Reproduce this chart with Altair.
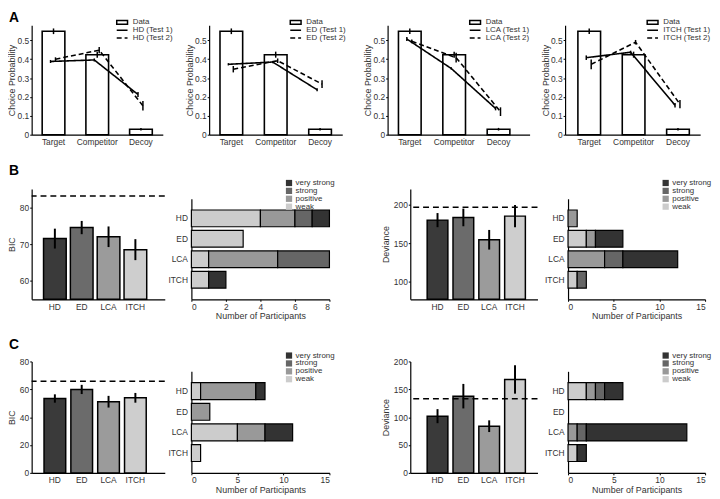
import altair as alt
import pandas as pd

FONT = "Liberation Sans"

# ---------------- data ----------------
choice_options = ["Target", "Competitor", "Decoy"]
data_prob = [0.548, 0.424, 0.029]
data_err = [0.015, 0.016, 0.007]

model_names = ["HD", "ED", "LCA", "ITCH"]
model_colors = ["#3a3a3a", "#6b6b6b", "#9b9b9b", "#cecece"]

test1_prob = {
    "HD": [0.388, 0.396, 0.213],
    "ED": [0.373, 0.385, 0.238],
    "LCA": [0.507, 0.351, 0.139],
    "ITCH": [0.408, 0.437, 0.156],
}
test1_err = {
    "HD": [0.008, 0.008, 0.013],
    "ED": [0.006, 0.006, 0.008],
    "LCA": [0.010, 0.006, 0.010],
    "ITCH": [0.012, 0.008, 0.012],
}
test2_prob = {
    "HD": [0.400, 0.448, 0.153],
    "ED": [0.347, 0.392, 0.268],
    "LCA": [0.495, 0.408, 0.122],
    "ITCH": [0.373, 0.490, 0.162],
}
test2_err = {
    "HD": [0.010, 0.017, 0.025],
    "ED": [0.017, 0.012, 0.020],
    "LCA": [0.010, 0.026, 0.023],
    "ITCH": [0.026, 0.012, 0.022],
}

bic_B = [71.5, 74.5, 72.0, 68.5]
bic_B_err = [2.7, 1.8, 2.8, 2.85]
bic_B_ref = 83.1
dev_B = [180.3, 183.8, 154.7, 185.5]
dev_B_err = [9.2, 11.5, 12.8, 14.5]
dev_B_ref = 197.0
bic_C = [53.4, 59.9, 51.1, 53.9]
bic_C_err = [3.0, 3.3, 4.2, 3.5]
bic_C_ref = 65.8
dev_C = [101.8, 137.7, 83.8, 167.7]
dev_C_err = [12.6, 22.0, 10.5, 25.5]
dev_C_ref = 133.0

strength_levels = ["weak", "positive", "strong", "very strong"]
legend_order = ["very strong", "strong", "positive", "weak"]
strength_colors = ["#333333", "#666666", "#999999", "#cccccc"]

# counts per model in order weak, positive, strong, very strong
counts_B_bic = {"HD": [4, 2, 1, 1], "ED": [3, 0, 0, 0], "LCA": [1, 4, 3, 0], "ITCH": [1, 0, 0, 1]}
counts_B_dev = {"HD": [0, 1, 0, 0], "ED": [2, 1, 0, 3], "LCA": [0, 4, 2, 6], "ITCH": [1, 0, 1, 0]}
counts_C_bic = {"HD": [1, 6, 0, 1], "ED": [0, 2, 0, 0], "LCA": [5, 3, 0, 3], "ITCH": [1, 0, 0, 0]}
counts_C_dev = {"HD": [2, 1, 1, 2], "ED": [0, 0, 0, 0], "LCA": [0, 1, 1, 11], "ITCH": [1, 0, 0, 1]}

INDEP = dict(color="independent", stroke="independent", strokeDash="independent")


# ---------------- helpers ----------------
def letter_layer(letter, y):
    return alt.Chart(pd.DataFrame({"t": [letter]})).mark_text(
        fontSize=14, fontWeight="bold", align="left", baseline="middle",
        x=-23, y=y, color="black", font=FONT
    ).encode(text="t:N")


def spacer(w, h=1):
    return alt.Chart(pd.DataFrame({"t": [""]})).mark_text().encode(
        text="t:N").properties(width=w, height=h)


def choice_panel(m, width, pad_outer, align, legend_x, height=111, letter=None):
    idx = [0, 1, 2]
    df_data = pd.DataFrame({
        "option": choice_options, "idx": idx, "p": data_prob,
        "lo": [p - e for p, e in zip(data_prob, data_err)],
        "hi": [p + e for p, e in zip(data_prob, data_err)],
        "kind": ["Data"] * 3,
    })
    s1, s2 = f"{m} (Test 1)", f"{m} (Test 2)"

    def model_df(probs, errs, s):
        return pd.DataFrame({
            "option": choice_options, "idx": idx, "p": probs,
            "lo": [p - e for p, e in zip(probs, errs)],
            "hi": [p + e for p, e in zip(probs, errs)],
            "series": [s] * 3,
        })

    df1 = model_df(test1_prob[m], test1_err[m], s1)
    df2 = model_df(test2_prob[m], test2_err[m], s2)

    xenc = alt.X("option:N", sort=choice_options,
                 scale=alt.Scale(domain=choice_options, paddingInner=0,
                                 paddingOuter=pad_outer, align=align),
                 axis=alt.Axis(title=None, ticks=False, labelAngle=0, labelPadding=3))
    yscale = alt.Scale(domain=[0, 0.58], nice=False, zero=False)
    yaxis = alt.Axis(values=[0, 0.1, 0.2, 0.3, 0.4, 0.5], format=".1~f", labelOverlap=False,
                     titleX=-15, titleY=height / 2, tickSize=2, labelPadding=1)
    ttl = "Choice Probability"

    def yenc(field):
        return alt.Y(field, scale=yscale, axis=yaxis, title=ttl)

    bars = alt.Chart(df_data).mark_bar(size=23, fill="white", strokeWidth=1.6).encode(
        x=xenc,
        y=yenc("p:Q"),
        stroke=alt.Stroke("kind:N", scale=alt.Scale(domain=["Data"], range=["black"]),
                          legend=alt.Legend(orient="none", legendX=legend_x, legendY=-7,
                                            title=None, symbolType="M-2,-0.7H2V0.7H-2Z",
                                            symbolSize=30, symbolStrokeWidth=1.5,
                                            symbolFillColor="white", symbolStrokeColor="black",
                                            labelOffset=6.75, labelFontSize=8)),
    )
    data_err_rule = alt.Chart(df_data).mark_rule(color="black", strokeWidth=1.5).encode(
        x=xenc, y=yenc("lo:Q"), y2="hi:Q")

    dash_legend = alt.Legend(orient="none", legendX=legend_x, legendY=1, title=None,
                             symbolType="M-2,0H2", symbolSize=30, symbolStrokeWidth=1.5,
                             symbolStrokeColor="black", labelOffset=6.75, rowPadding=-3.5,
                             labelFontSize=8)
    dash = alt.StrokeDash("series:N", scale=alt.Scale(domain=[s1, s2], range=[[1, 0], [5, 3]]),
                          legend=dash_legend)

    layers = [bars, data_err_rule]
    for df, off in ((df1, -3), (df2, 2)):
        layers.append(alt.Chart(df).mark_line(color="black", strokeWidth=1.6, xOffset=off).encode(
            x=xenc, y=yenc("p:Q"), strokeDash=dash, order=alt.Order("idx:Q")))
        layers.append(alt.Chart(df).mark_rule(color="black", strokeWidth=1.5, xOffset=off).encode(
            x=xenc, y=yenc("lo:Q"), y2="hi:Q"))
    if letter:
        layers.append(letter_layer(letter, -7))
    return alt.layer(*layers).properties(width=width, height=height)


def score_panel(vals, errs, ref, domain, ticks, title, width, height, pad_outer, align,
                bar_size, title_x, letter=None, letter_y=0):
    df = pd.DataFrame({
        "model": model_names, "v": vals,
        "lo": [v - e for v, e in zip(vals, errs)],
        "hi": [v + e for v, e in zip(vals, errs)],
    })
    xenc = alt.X("model:N", sort=model_names,
                 scale=alt.Scale(domain=model_names, paddingInner=0,
                                 paddingOuter=pad_outer, align=align),
                 axis=alt.Axis(title=None, ticks=False, labelAngle=0, labelPadding=3))
    yscale = alt.Scale(domain=domain, nice=False, zero=False)
    yaxis = alt.Axis(values=ticks, titleX=title_x, titleY=height / 2, tickSize=2,
                     labelPadding=1, labelOverlap=False)

    def yenc(field):
        return alt.Y(field, scale=yscale, axis=yaxis, title=title)

    bars = alt.Chart(df).mark_bar(size=bar_size, stroke="black", strokeWidth=1.5).encode(
        x=xenc,
        y=yenc("v:Q"),
        y2=alt.datum(domain[0]),
        color=alt.Color("model:N", scale=alt.Scale(domain=model_names, range=model_colors),
                        legend=None),
    )
    err = alt.Chart(df).mark_rule(color="black", strokeWidth=2).encode(
        x=xenc, y=yenc("lo:Q"), y2="hi:Q")
    refline = alt.Chart(pd.DataFrame({"ref": [ref]})).mark_rule(
        color="black", strokeWidth=1.5, strokeDash=[6, 4]).encode(y=yenc("ref:Q"))
    layers = [bars, err, refline]
    if letter:
        layers.append(letter_layer(letter, letter_y))
    return alt.layer(*layers).properties(width=width, height=height)


def evidence_panel(counts, xmax, xticks, width, height):
    rows = []
    for m in model_names:
        for k, s in enumerate(strength_levels):
            n = counts[m][k]
            if n > 0:
                rows.append({"model": m, "strength": s, "rank": k, "n": n})
    df = pd.DataFrame(rows)
    return alt.Chart(df).mark_bar(stroke="black", strokeWidth=1.2).encode(
        x=alt.X("n:Q", stack="zero", scale=alt.Scale(domain=[0, xmax], nice=False),
                axis=alt.Axis(values=xticks, title="Number of Participants", tickSize=2,
                              labelPadding=1, titlePadding=1)),
        y=alt.Y("model:N", sort=model_names,
                scale=alt.Scale(domain=model_names, range=[10, height],
                                paddingInner=0.18, paddingOuter=0.55),
                axis=alt.Axis(title=None, ticks=False, labelPadding=4)),
        color=alt.Color("strength:N",
                        scale=alt.Scale(domain=legend_order, range=strength_colors),
                        legend=alt.Legend(orient="none", legendX=95, legendY=-10, title=None,
                                          symbolType="square", symbolSize=40,
                                          symbolStrokeWidth=0, labelOffset=2.7,
                                          rowPadding=-3.5, labelFontSize=8)),
        order=alt.Order("rank:Q"),
    ).properties(width=width, height=height)


def row(panels, gaps):
    items = [panels[0]]
    for g, p in zip(gaps, panels[1:]):
        items += [spacer(g), p]
    return alt.hconcat(*items, spacing=0, bounds="flush").resolve_scale(
        **INDEP).resolve_legend(**INDEP)


# ---------------- rows ----------------
A1 = choice_panel("HD", 133, 0, 0, 87.75, letter="A")
A2 = choice_panel("ED", 135, 0, 0, 83.75)
A3 = choice_panel("LCA", 144, 0.1, 0, 84.75)
A4 = choice_panel("ITCH", 137, 0.022, 1, 84.75)
row_a = row([A1, A2, A3, A4], [47, 46, 36])

B1 = score_panel(bic_B, bic_B_err, bic_B_ref, [55, 85], [60, 70, 80], "BIC",
                 135, 112, 0.48, 0.38, 23, -15, letter="B", letter_y=-18)
B2 = evidence_panel(counts_B_bic, 8, [0, 2, 4, 6, 8], 140, 112)
B3 = score_panel(dev_B, dev_B_err, dev_B_ref, [77, 221], [100, 150, 200], "Deviance",
                 129, 112, 0.462, 0.6, 21, -20)
B4 = evidence_panel(counts_B_dev, 15, [0, 5, 10, 15], 139, 112)
row_b = row([B1, B2, B3, B4], [27, 82, 31])

C1 = score_panel(bic_C, bic_C_err, bic_C_ref, [0, 80], [0, 20, 40, 60, 80], "BIC",
                 135, 113, 0.48, 0.38, 22, -15, letter="C", letter_y=-16.5)
C2 = evidence_panel(counts_C_bic, 15, [0, 5, 10, 15], 140, 113)
C3 = score_panel(dev_C, dev_C_err, dev_C_ref, [0, 200], [0, 50, 100, 150, 200], "Deviance",
                 129, 113, 0.462, 0.6, 21, -20)
C4 = evidence_panel(counts_C_dev, 15, [0, 5, 10, 15], 139, 113)
row_c = row([C1, C2, C3, C4], [27, 82, 31])

# nested rows count as zero-height in a flush layout, so the vertical spacers
# carry the row height plus the gap between rows
chart = alt.vconcat(row_a, spacer(1, 111 + 55), row_b, spacer(1, 112 + 63), row_c,
                    spacing=0, bounds="flush").resolve_scale(
    **INDEP).resolve_legend(**INDEP).properties(padding=0)

chart = chart.configure(font=FONT).configure_view(stroke=None).configure_axis(
    labelFont=FONT, labelFontSize=8.5, labelColor="#333333",
    titleFont=FONT, titleFontSize=9, titleFontWeight="normal", titleColor="#333333",
    domainColor="black", domainWidth=1.2, tickColor="black", tickWidth=1, grid=False,
).configure_legend(labelFont=FONT, labelColor="#333333", padding=0)

chart.save("out.html", embed_options={"renderer": "svg", "actions": False})
